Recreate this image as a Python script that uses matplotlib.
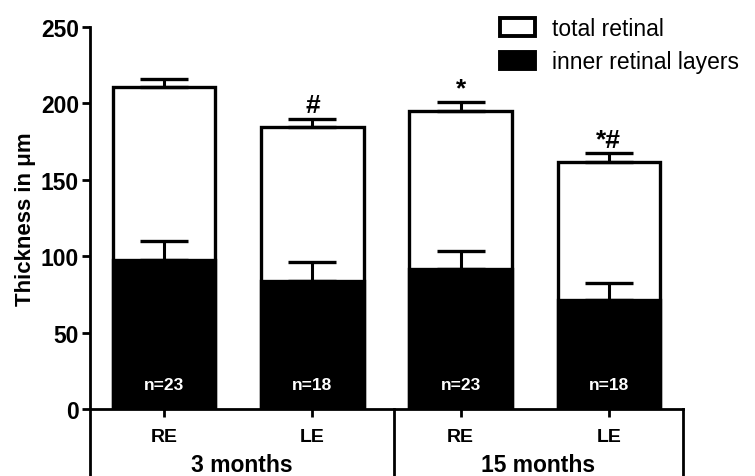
import numpy as np
import matplotlib
matplotlib.use('Agg')
import matplotlib.pyplot as plt
from matplotlib.patches import Patch
from matplotlib.transforms import blended_transform_factory

plt.rcParams['font.family'] = ['Liberation Sans', 'DejaVu Sans']

# data
eyes = ['RE', 'LE', 'RE', 'LE']
groups = ['3 months', '15 months']
total = [211, 184.5, 195, 161.5]
total_err = [5, 5.5, 6, 6]
inner = [97.7, 84, 91.6, 71.3]
inner_err = [12.3, 12, 11.8, 11.4]
n_labels = ['n=23', 'n=18', 'n=23', 'n=18']
sig = ['', '#', '*', '*#']

x = np.arange(len(eyes))
w = 0.69

fig = plt.figure(figsize=(7.55, 4.77), dpi=100)
fig.patch.set_facecolor('white')
ax = fig.add_axes([90/755, 1-410/477, (683-90)/755, (410-28)/477])

ax.bar(x, total, width=w, color='white', edgecolor='black', linewidth=2.4, zorder=1)
ax.bar(x, inner, width=w, color='black', edgecolor='black', linewidth=2.4, zorder=2)
ax.errorbar(x, total, yerr=[np.zeros(4), total_err], fmt='none', ecolor='black',
            elinewidth=2.2, capsize=17, capthick=2.4, zorder=3)
ax.errorbar(x, inner, yerr=[np.zeros(4), inner_err], fmt='none', ecolor='black',
            elinewidth=2.2, capsize=17, capthick=2.4, zorder=3)

for i in range(len(x)):
    ax.text(x[i], 16, n_labels[i], color='white', fontsize=12.5, fontweight='bold',
            ha='center', va='center', zorder=4)
    if sig[i]:
        ax.text(x[i], total[i] + total_err[i] + 1, sig[i], fontsize=19, fontweight='bold',
                ha='center', va='bottom', zorder=4)

ax.set_xlim(-0.5, 3.5)
ax.set_ylim(0, 250)
ax.set_yticks([0, 50, 100, 150, 200, 250])
ax.set_xticks(x)
ax.set_xticklabels(eyes, fontsize=14, fontweight='bold')
for lab in ax.get_yticklabels():
    lab.set_fontsize(16.5)
    lab.set_fontweight('bold')
ax.tick_params(axis='y', length=6, width=2, pad=2)
ax.tick_params(axis='x', length=6, width=2, pad=8)
ax.spines['top'].set_visible(False)
ax.spines['right'].set_visible(False)
ax.spines['left'].set_linewidth(2)
ax.spines['bottom'].set_linewidth(2)
ax.set_ylabel('Thickness in μm', fontsize=16, fontweight='bold', labelpad=3)

# group dividers and labels under the axis
tr = blended_transform_factory(ax.transData, ax.transAxes)
divs = [-0.5, 1.55, 3.5]
for d in divs:
    ax.plot([d, d], [0, -0.2], color='black', lw=2, transform=tr, clip_on=False)
for j in range(len(groups)):
    ax.text((divs[j] + divs[j+1]) / 2, -0.162, groups[j], transform=tr, fontsize=16.5,
            fontweight='bold', ha='center', va='baseline')

handles = [Patch(facecolor='white', edgecolor='black', linewidth=2.8),
           Patch(facecolor='black', edgecolor='black', linewidth=2.8)]
fig.legend(handles, ['total retinal', 'inner retinal layers'], loc='upper left',
           bbox_to_anchor=(500/755, 1-18/477), frameon=False, fontsize=16.5,
           handlelength=1.53, handleheight=0.8, handletextpad=0.74,
           labelspacing=0.45, borderpad=0, borderaxespad=0)

fig.savefig('out.png', dpi=100)
